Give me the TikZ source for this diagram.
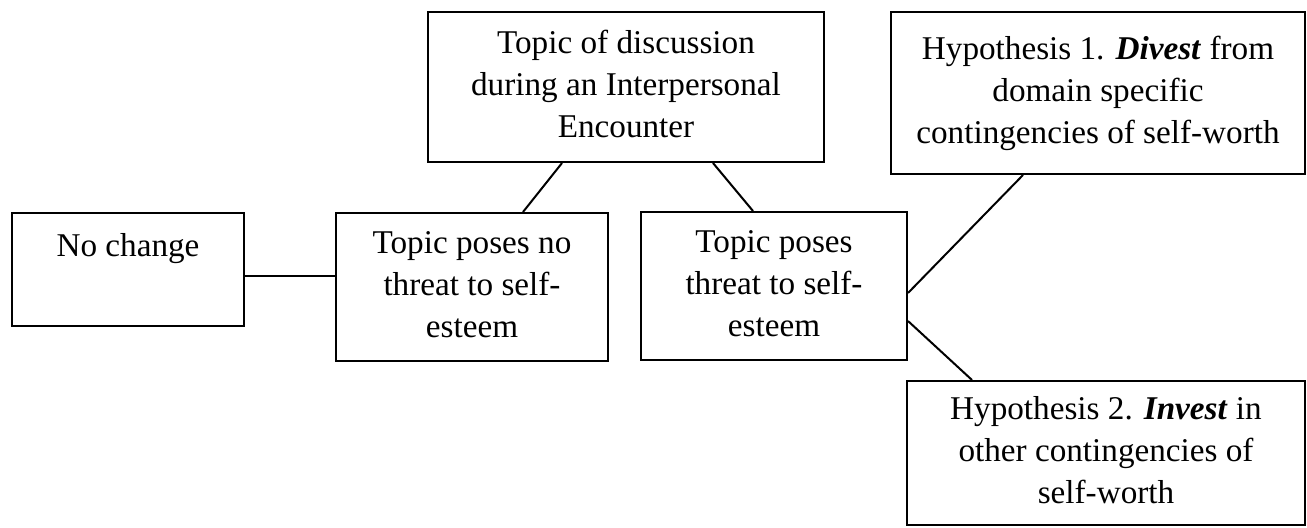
\documentclass[tikz,border=0pt]{standalone}
\usepackage{fontspec}
\setmainfont{Liberation Serif}
\usetikzlibrary{calc}
\begin{document}
\begin{tikzpicture}[x=0.5pt,y=-0.5pt,
  box/.style={draw, line width=1pt, rectangle, align=center, inner sep=0pt,
              font=\fontsize{16.6}{21}\selectfont},
  link/.style={line width=1pt}]
\useasboundingbox (0,0) rectangle (1307,527);
\node[box, minimum width=116pt, minimum height=56.5pt] (nochange) at (128,269.5)
  {\strut No change\\\strut};
\node[box, minimum width=136pt, minimum height=74pt] (nothreat) at (472,287)
  {\strut Topic poses no\\\strut threat to self-\\\strut esteem};
\node[box, minimum width=133pt, minimum height=74pt] (threat) at (774,286)
  {\strut Topic poses\\\strut threat to self-\\\strut esteem};
\node[box, minimum width=198pt, minimum height=75pt] (topic) at (626,87)
  {\strut Topic of discussion\\\strut during an Interpersonal\\\strut Encounter};
\node[box, minimum width=207pt, minimum height=81pt] (hypone) at (1098,93)
  {\strut Hypothesis 1. \textbf{\textit{Divest}} from\\\strut domain specific\\\strut contingencies of self-worth};
\node[box, minimum width=199pt, minimum height=72pt] (hyptwo) at (1106,453)
  {\strut Hypothesis 2. \textbf{\textit{Invest}} in\\\strut other contingencies of\\\strut self-worth};
\draw[link] ([yshift=-3.25pt]nochange.east) -- ([yshift=-3.25pt]nochange.east -| nothreat.west);
\draw[link] ([xshift=-32pt]topic.south) -- ([xshift=25.5pt]nothreat.north);
\draw[link] ([xshift=43.5pt]topic.south) -- ([xshift=-10.5pt]threat.north);
\draw[link] ([xshift=-37.5pt]hypone.south) -- ([yshift=-3.5pt]threat.east);
\draw[link] ([yshift=-17.5pt]threat.east) -- ([xshift=-67pt]hyptwo.north);
\end{tikzpicture}
\end{document}
